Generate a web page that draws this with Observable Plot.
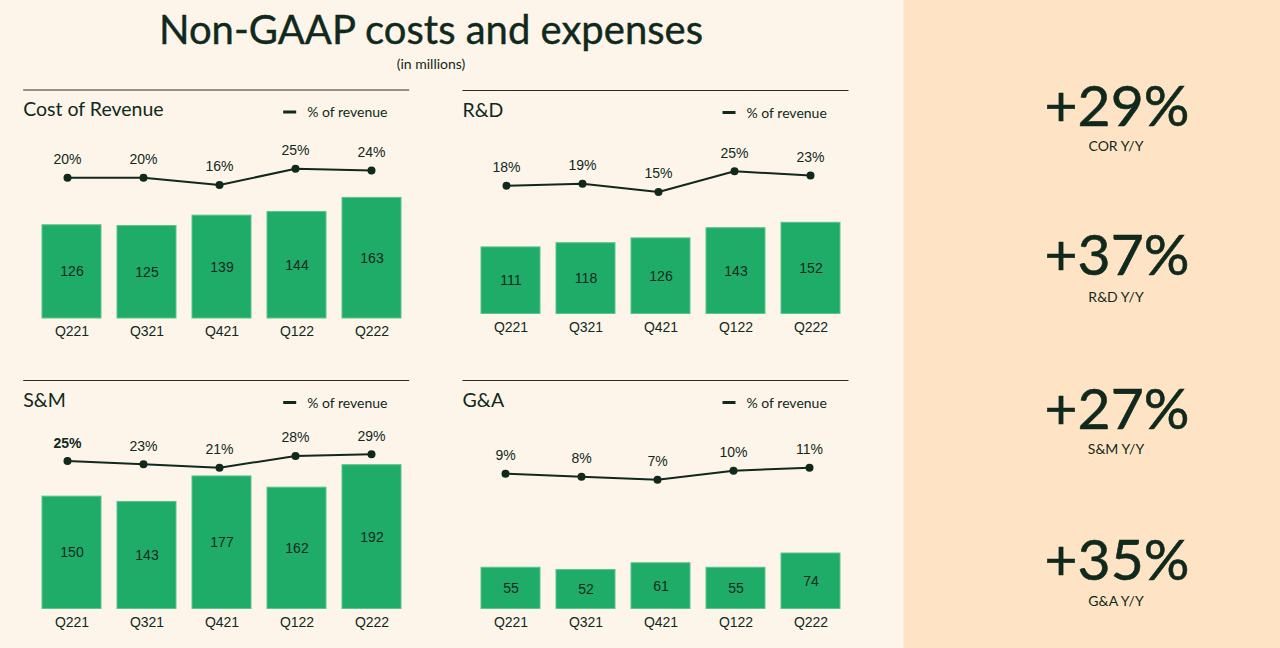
<!DOCTYPE html>
<html><head><meta charset="utf-8">
<script src="https://cdn.jsdelivr.net/npm/d3@7"></script>
<script src="https://cdn.jsdelivr.net/npm/@observablehq/plot@0.6"></script>
<style>
html,body{margin:0;padding:0;}
body{width:1280px;height:648px;background:#fdf5ea;position:relative;overflow:hidden;}
.layer{position:absolute;left:0;top:0;}
.plotbox{position:absolute;}
</style></head><body>
<script>
// ---------- data ----------
const quarters = ["Q221","Q321","Q421","Q122","Q222"];
const corCost = [126,125,139,144,163];
const corPct  = [20,20,16,25,24];
const rdCost  = [111,118,126,143,152];
const rdPct   = [18,19,15,25,23];
const smCost  = [150,143,177,162,192];
const smPct   = [25,23,21,28,29];
const gaCost  = [55,52,61,55,74];
const gaPct   = [9,8,7,10,11];
const panelTitles = ["Cost of Revenue","R&D","S&M","G&A"];
const legendLabel = "% of revenue";
const growthValues = ["+29%","+37%","+27%","+35%"];
const growthLabels = ["COR Y/Y","R&D Y/Y","S&M Y/Y","G&A Y/Y"];
const titleText = "Non-GAAP costs and expenses";
const subtitleText = "(in millions)";

// ---------- layout / style ----------
const DARK = "#10291c";
const GREEN = "#1fac68";
const SANS = "Lato, 'Noto Sans', sans-serif";
const ARIAL = "'Liberation Sans', Arial, sans-serif";
const W = 394;
const layout = [
  {x:23.5,  ruleY:90,    base:318, ppu:0.74,  lineX:[65,371.7],    v0:20, y0:177.3, k:1.8},
  {x:462.8, ruleY:90.5,  base:313, ppu:0.60,  lineX:[504.3,810.7], v0:15, y0:191,   k:2.07},
  {x:23.5,  ruleY:380.5, base:608, ppu:0.749, lineX:[65,371.7],    v0:21, y0:466.7, k:1.67},
  {x:462.8, ruleY:380.5, base:608, ppu:0.75,  lineX:[503.3,810.7], v0:7,  y0:478.7, k:3}
];
const costs = [corCost, rdCost, smCost, gaCost];
const pcts = [corPct, rdPct, smPct, gaPct];

// ---------- background layer with text ----------
const svg = d3.select("body").append("svg").attr("class","layer")
  .attr("width",1280).attr("height",648);
svg.append("rect").attr("x",903.5).attr("y",0).attr("width",376.5).attr("height",648).attr("fill","#fee4c4");
svg.append("text").attr("x",431).attr("y",44).attr("text-anchor","middle")
  .attr("font-family",SANS).attr("font-size",40).attr("fill",DARK)
  .attr("stroke",DARK).attr("stroke-width",0.4).text(titleText);
svg.append("text").attr("x",431).attr("y",69).attr("text-anchor","middle")
  .attr("font-family",SANS).attr("font-size",14).attr("fill",DARK).text(subtitleText);

layout.forEach((L,i)=>{
  const x0 = L.x - 0.3;
  svg.append("line").attr("x1",x0).attr("x2",x0+386).attr("y1",L.ruleY).attr("y2",L.ruleY)
    .attr("stroke","#2a2a2a").attr("stroke-width",1.2);
  svg.append("text").attr("x",x0).attr("y",L.ruleY+26).attr("font-family",SANS)
    .attr("font-size",19.5).attr("fill",DARK).text(panelTitles[i]);
  svg.append("line").attr("x1",x0+260).attr("x2",x0+273).attr("y1",L.ruleY+22).attr("y2",L.ruleY+22)
    .attr("stroke",DARK).attr("stroke-width",3);
  svg.append("text").attr("x",x0+284).attr("y",L.ruleY+27).attr("font-family",SANS)
    .attr("font-size",14).attr("fill",DARK).text(legendLabel);
});

const gBase = [125.5,275,428.5,580];
const lBase = [151,302,454,605.5];
growthValues.forEach((g,i)=>{
  svg.append("text").attr("x",1117).attr("y",gBase[i]).attr("text-anchor","middle")
    .attr("font-family",SANS).attr("font-size",57).attr("fill",DARK)
    .attr("stroke",DARK).attr("stroke-width",0.6).text(g);
  svg.append("text").attr("x",1116).attr("y",lBase[i]).attr("text-anchor","middle")
    .attr("font-family",SANS).attr("font-size",14).attr("fill",DARK).text(growthLabels[i]);
});

// ---------- plots ----------
function place(node, left, top){
  const div = document.createElement("div");
  div.className = "plotbox";
  div.style.left = left+"px"; div.style.top = top+"px";
  div.appendChild(node);
  document.body.appendChild(div);
}

layout.forEach((L,i)=>{
  const data = quarters.map((q,j)=>({q, v:costs[i][j], p:pcts[i][j], j}));
  // bars
  const top = L.ruleY + 40;
  const plotH = L.base - top;
  const barPlot = Plot.plot({
    width: W, height: plotH + 30,
    marginLeft:0, marginRight:0, marginTop:0, marginBottom:30,
    style:{background:"transparent", fontFamily:ARIAL, fontSize:"14px", color:DARK, overflow:"visible"},
    x:{domain:quarters, padding:0.22, tickSize:0, tickPadding:8, label:null},
    y:{domain:[0, plotH/L.ppu], axis:null},
    marks:[
      Plot.barY(data,{x:"q", y:"v", fill:GREEN, stroke:"#5cc48e", strokeWidth:1, inset:0}),
      Plot.text(data,{x:"q", y:d=>d.v/2, text:d=>String(d.v), fill:DARK, fontSize:14, fontFamily:ARIAL})
    ]
  });
  place(barPlot, L.x, top);

  // line
  const lt = L.ruleY + 30, lh = 130;
  const yAt = v => L.y0 - L.k*(v - L.v0) - lt;
  const linePlot = Plot.plot({
    width: W, height: lh,
    marginLeft:0, marginRight:0, marginTop:0, marginBottom:0,
    style:{background:"transparent", fontFamily:ARIAL, fontSize:"14px", color:DARK, overflow:"visible"},
    x:{type:"point", domain:quarters, padding:0, range:[L.lineX[0]-L.x, L.lineX[1]-L.x], axis:null},
    y:{domain:[0,40], range:[yAt(0), yAt(40)], axis:null},
    marks:[
      Plot.line(data,{x:"q", y:"p", stroke:DARK, strokeWidth:2}),
      Plot.dot(data,{x:"q", y:"p", fill:DARK, r:4}),
      Plot.text(data.filter(d=>!(i===2 && d.j===0)),{x:"q", y:"p", text:d=>d.p+"%", dy:-18, fill:DARK, fontSize:14, fontFamily:ARIAL}),
      Plot.text(data.filter(d=>(i===2 && d.j===0)),{x:"q", y:"p", text:d=>d.p+"%", dy:-18, fill:DARK, fontSize:14, fontWeight:"bold", fontFamily:ARIAL})
    ]
  });
  place(linePlot, L.x, lt);
});
</script>
</body></html>
